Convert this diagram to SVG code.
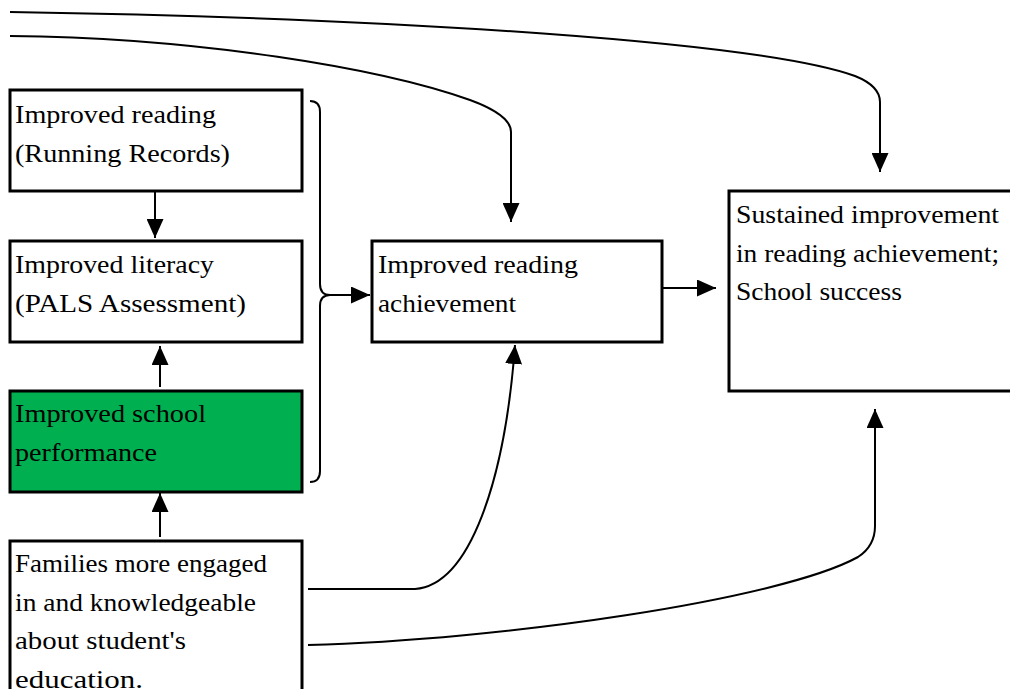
<svg xmlns="http://www.w3.org/2000/svg" width="1010" height="689" viewBox="0 0 1010 689">
<style>
.box{fill:#fff;stroke:#000;stroke-width:3}
.green{fill:#00B050}
.t{font-family:'Liberation Serif','DejaVu Serif','Noto Serif',serif;font-size:24.5px;fill:#000}
.c{fill:none;stroke:#000;stroke-width:2}
</style>
<defs>
<marker id="ah" viewBox="0 0 19 17" refX="19" refY="8.5" markerWidth="19" markerHeight="17" markerUnits="userSpaceOnUse" orient="auto">
<path d="M0,0 L19,8.5 L0,17 z" fill="#000"/>
</marker>
</defs>
<g id="connectors">
<path class="c" d="M10,12 C400,18 760,42 855,76 Q880,86 880,102 L880,172" marker-end="url(#ah)"/>
<path class="c" d="M10,36 C200,38 380,68 470,100 Q511,115 511,132 L511,222" marker-end="url(#ah)"/>
<path class="c" d="M155,191 L155,238" marker-end="url(#ah)"/>
<path class="c" d="M160,387 L160,346" marker-end="url(#ah)"/>
<path class="c" d="M160,537 L160,493" marker-end="url(#ah)"/>
<path class="c" d="M310,101 Q320,101 320,112 L320,284 Q320,295 330,295 Q320,295 320,306 L320,471 Q320,482 310,482"/>
<path class="c" d="M330,295 L370,295" marker-end="url(#ah)"/>
<path class="c" d="M662,288 L716,288" marker-end="url(#ah)"/>
<path class="c" d="M308,589 L415,589 C470,585 505,480 515,345" marker-end="url(#ah)"/>
<path class="c" d="M308,645 C500,640 780,600 858,557 Q875,546 875,526 L875,409" marker-end="url(#ah)"/>
</g>
<g id="n1">
<rect class="box" x="10" y="90" width="292" height="101"/>
<text class="t" x="15" y="123" textLength="201" lengthAdjust="spacingAndGlyphs">Improved reading</text>
<text class="t" x="15" y="161.5" textLength="215" lengthAdjust="spacingAndGlyphs">(Running Records)</text>
</g>
<g id="n2">
<rect class="box" x="10" y="241" width="292" height="101"/>
<text class="t" x="15" y="273" textLength="199" lengthAdjust="spacingAndGlyphs">Improved literacy</text>
<text class="t" x="15" y="311.5" textLength="231" lengthAdjust="spacingAndGlyphs">(PALS Assessment)</text>
</g>
<g id="n3">
<rect class="box green" x="10" y="391" width="292" height="101"/>
<text class="t" x="15" y="422" textLength="191" lengthAdjust="spacingAndGlyphs">Improved school</text>
<text class="t" x="15" y="460.5" textLength="142" lengthAdjust="spacingAndGlyphs">performance</text>
</g>
<g id="n4">
<rect class="box" x="10" y="541" width="292" height="170"/>
<text class="t" x="15" y="572" textLength="252" lengthAdjust="spacingAndGlyphs">Families more engaged</text>
<text class="t" x="15" y="610.5" textLength="241" lengthAdjust="spacingAndGlyphs">in and knowledgeable</text>
<text class="t" x="15" y="649" textLength="171" lengthAdjust="spacingAndGlyphs">about student's</text>
<text class="t" x="15" y="687.5" textLength="128" lengthAdjust="spacingAndGlyphs">education.</text>
</g>
<g id="n5">
<rect class="box" x="372" y="241" width="290" height="101"/>
<text class="t" x="378" y="273" textLength="200" lengthAdjust="spacingAndGlyphs">Improved reading</text>
<text class="t" x="378" y="311.5" textLength="138" lengthAdjust="spacingAndGlyphs">achievement</text>
</g>
<g id="n6">
<rect class="box" x="729" y="191" width="290" height="200"/>
<text class="t" x="736" y="223" textLength="263" lengthAdjust="spacingAndGlyphs">Sustained improvement</text>
<text class="t" x="736" y="261.5" textLength="263" lengthAdjust="spacingAndGlyphs">in reading achievement;</text>
<text class="t" x="736" y="300" textLength="166" lengthAdjust="spacingAndGlyphs">School success</text>
</g>
</svg>
